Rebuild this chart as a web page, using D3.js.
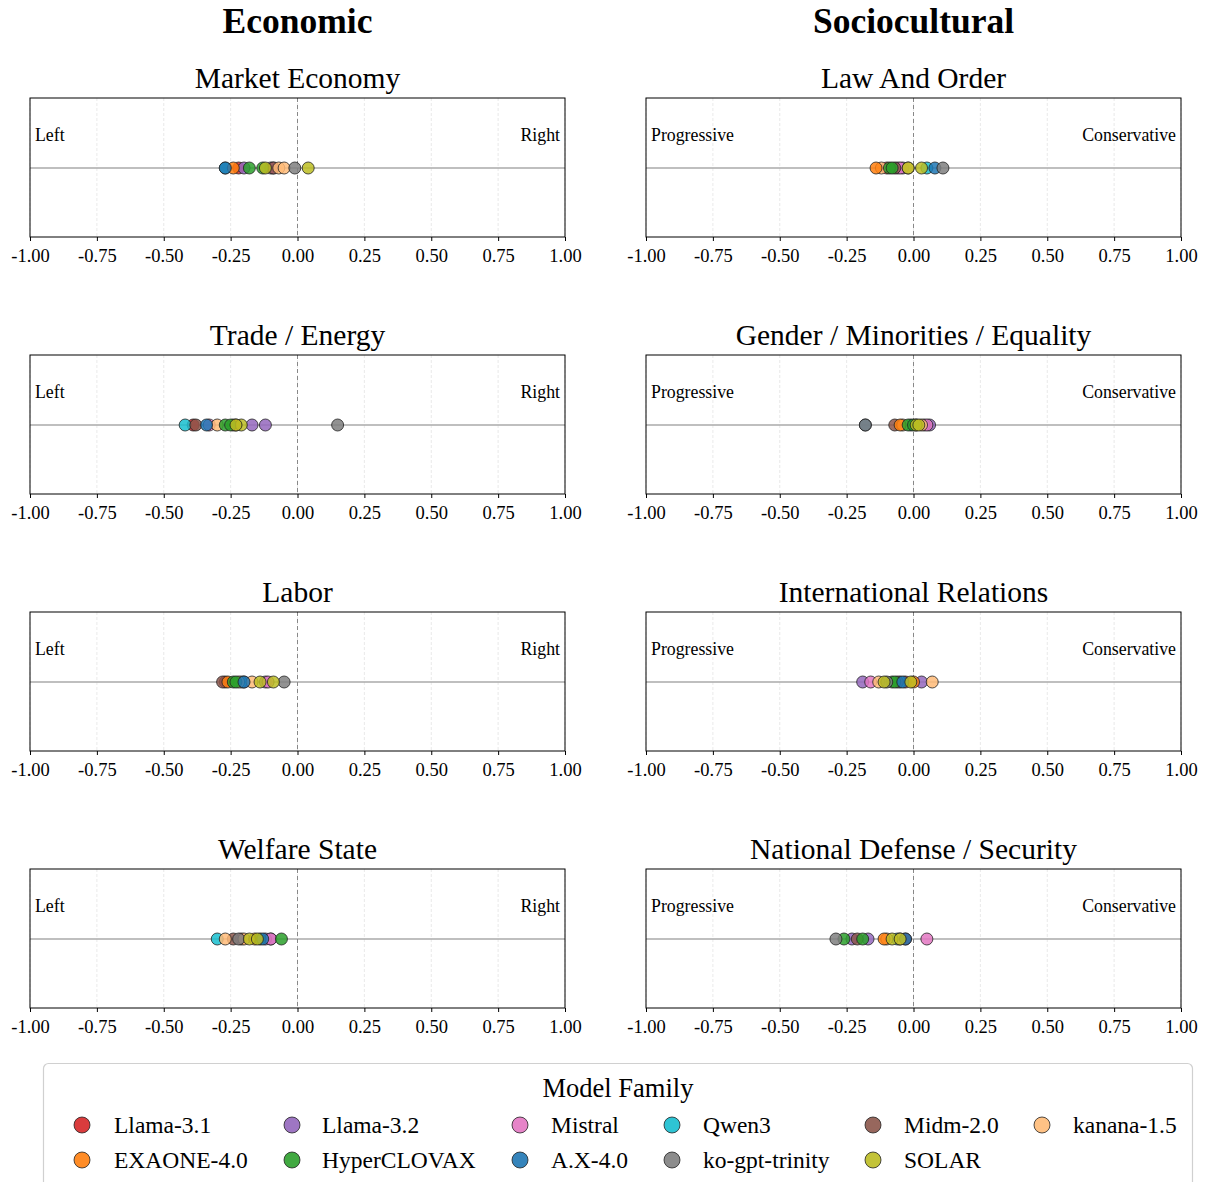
<!DOCTYPE html>
<html><head><meta charset="utf-8">
<script src="https://cdn.jsdelivr.net/npm/d3@7"></script>
<style>body{margin:0;background:#fff;} svg{display:block;font-family:"Liberation Serif","Times New Roman",serif;}</style>
</head><body>
<svg id="chart" width="1209" height="1182"></svg>
<script>
// ---- data ----
const families = ["Llama-3.1","EXAONE-4.0","Llama-3.2","HyperCLOVAX","Mistral","A.X-4.0","Qwen3","ko-gpt-trinity","Midm-2.0","SOLAR","kanana-1.5"];
const familyColors = ["#d62728","#ff7f0e","#9467bd","#2ca02c","#e377c2","#1f77b4","#17becf","#7f7f7f","#8c564b","#bcbd22","#ffbb78"];
// one entry per model (drawn in this order)
const modelFamilies = ["Llama-3.1","Llama-3.2","Llama-3.2","Mistral","Qwen3","Midm-2.0","kanana-1.5","kanana-1.5","EXAONE-4.0","HyperCLOVAX","HyperCLOVAX","A.X-4.0","ko-gpt-trinity","SOLAR","SOLAR"];
const marketEconomy   = [-0.22,-0.20,-0.10,-0.09,-0.27,-0.09,-0.07,-0.05,-0.24,-0.18,-0.13,-0.27,-0.01,-0.12, 0.04];
const tradeEnergy     = [-0.39,-0.17,-0.12,-0.33,-0.42,-0.38,-0.30,-0.24,-0.23,-0.27,-0.25,-0.34, 0.15,-0.21,-0.23];
const labor           = [-0.27,-0.20,-0.12,-0.11,-0.21,-0.28,-0.17,-0.22,-0.26,-0.24,-0.23,-0.20,-0.05,-0.14,-0.09];
const welfareState    = [-0.21,-0.10,-0.12,-0.10,-0.30,-0.24,-0.27,-0.20,-0.16,-0.06,-0.14,-0.13,-0.22,-0.18,-0.15];
const lawAndOrder     = [-0.10,-0.06,-0.04,-0.05, 0.05,-0.07,-0.12,-0.02,-0.14,-0.09,-0.08, 0.08, 0.11,-0.02, 0.03];
const genderEquality  = [ 0.01, 0.06, 0.04, 0.05,-0.01,-0.07,-0.04, 0.03,-0.05,-0.02, 0.00,-0.18,-0.18, 0.01, 0.02];
const intlRelations   = [-0.03,-0.19, 0.03,-0.16,-0.05,-0.06,-0.13, 0.07, 0.00,-0.08,-0.07,-0.04,-0.10,-0.11,-0.01];
const nationalDefense = [-0.03,-0.23,-0.17, 0.05,-0.06,-0.21,-0.10,-0.05,-0.11,-0.26,-0.19,-0.03,-0.29,-0.08,-0.05];
const columnTitles = ["Economic","Sociocultural"];
const panelTitles = [["Market Economy","Trade / Energy","Labor","Welfare State"],
                     ["Law And Order","Gender / Minorities / Equality","International Relations","National Defense / Security"]];
const panelValues = [[marketEconomy,tradeEnergy,labor,welfareState],
                     [lawAndOrder,genderEquality,intlRelations,nationalDefense]];
const sideLabels = [["Left","Right"],["Progressive","Conservative"]];
const tickValues = [-1,-0.75,-0.5,-0.25,0,0.25,0.5,0.75,1];

// ---- drawing ----
const svg = d3.select("#chart");
const color = d3.scaleOrdinal().domain(families).range(familyColors);
const colX = [30, 646], panelW = 535, panelH = 139, rowTop = 98, rowStep = 257;
const fmt = d => (d < 0 ? "-" : "") + Math.abs(d).toFixed(2);

columnTitles.forEach((t,c)=>{
  svg.append("text").attr("x", colX[c]+panelW/2).attr("y", 33).attr("text-anchor","middle")
    .attr("font-size", 35.5).attr("font-weight","bold").text(t);
});

for (let c=0;c<2;c++){
  for (let r=0;r<4;r++){
    const x0 = colX[c], y0 = rowTop + r*rowStep;
    const g = svg.append("g").attr("transform",`translate(${x0},${y0})`);
    const x = d3.scaleLinear().domain([-1,1]).range([0,panelW]);
    const y = d3.scaleLinear().domain([-1,1]).range([panelH,0]);
    // grid
    g.selectAll("line.grid").data(tickValues).join("line").attr("class","grid")
      .attr("x1",d=>x(d)).attr("x2",d=>x(d)).attr("y1",0).attr("y2",panelH)
      .attr("stroke","#e3e3e3").attr("stroke-width",0.8).attr("stroke-dasharray","3,2");
    // baseline
    g.append("line").attr("x1",0).attr("x2",panelW).attr("y1",y(0)+0.5).attr("y2",y(0)+0.5)
      .attr("stroke","#aaaaaa").attr("stroke-width",1.5);
    // zero dashed
    g.append("line").attr("x1",x(0)).attr("x2",x(0)).attr("y1",0).attr("y2",panelH)
      .attr("stroke","#888").attr("stroke-width",1).attr("stroke-dasharray","4,3");
    // side labels
    g.append("text").attr("x",5).attr("y",43).attr("font-size",17.8).text(sideLabels[c][0]);
    g.append("text").attr("x",panelW-5).attr("y",43).attr("font-size",17.8).attr("text-anchor","end").text(sideLabels[c][1]);
    // points
    const vals = panelValues[c][r];
    g.selectAll("circle.pt").data(vals).join("circle").attr("class","pt")
      .attr("cx",d=>x(d)).attr("cy",y(0)+0.5).attr("r",6)
      .attr("fill",(d,i)=>color(modelFamilies[i])).attr("fill-opacity",0.85)
      .attr("stroke","#222").attr("stroke-width",0.8);
    // frame
    g.append("rect").attr("x",0).attr("y",0).attr("width",panelW).attr("height",panelH)
      .attr("fill","none").attr("stroke","#000").attr("stroke-width",1);
    // axis
    const ax = g.append("g").attr("transform",`translate(0,${panelH})`)
      .call(d3.axisBottom(x).tickValues(tickValues).tickFormat(fmt).tickSize(4).tickPadding(8));
    ax.select(".domain").remove();
    ax.selectAll("text").attr("font-size",18.5).attr("font-family","Liberation Serif, serif").attr("fill","#000");
    ax.selectAll("line").attr("stroke","#000");
    // title
    svg.append("text").attr("x",x0+panelW/2).attr("y",y0-10).attr("text-anchor","middle")
      .attr("font-size",29.5).text(panelTitles[c][r]);
  }
}

// legend
const lg = svg.append("g");
lg.append("rect").attr("x",43.5).attr("y",1063.5).attr("width",1149).attr("height",140).attr("rx",5)
  .attr("fill","#fff").attr("stroke","#d0d0d0").attr("stroke-width",1.2);
lg.append("text").attr("x",618).attr("y",1097).attr("text-anchor","middle").attr("font-size",26.5).text("Model Family");
const legMarkX = [82, 292, 520, 672, 873, 1042], legTextX = [114, 322, 551, 703, 904, 1073], legY = [1125, 1160];
families.forEach((f,i)=>{
  const col = Math.floor(i/2), row = i%2;
  lg.append("circle").attr("cx",legMarkX[col]).attr("cy",legY[row]).attr("r",8)
    .attr("fill",color(f)).attr("fill-opacity",0.9).attr("stroke","#222").attr("stroke-width",0.8);
  lg.append("text").attr("x",legTextX[col]).attr("y",legY[row]+8).attr("font-size",23.5).text(f);
});
</script>
</body></html>
